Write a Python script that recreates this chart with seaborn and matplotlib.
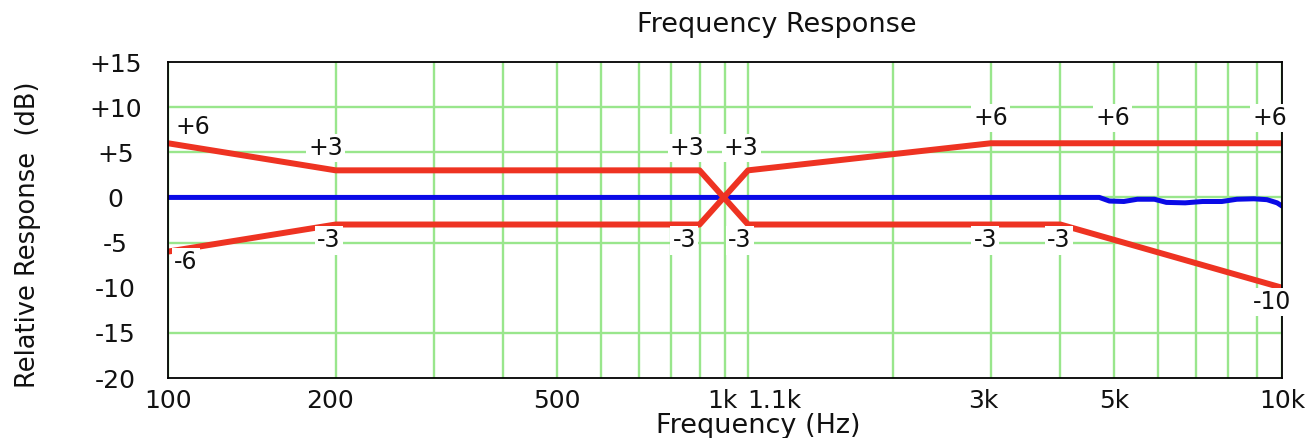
import matplotlib
matplotlib.use("Agg")
import matplotlib.pyplot as plt
import matplotlib.ticker as mticker
import matplotlib.transforms as mtransforms
import seaborn as sns
import pandas as pd

# ---- data ----
upper_freq = [100, 200, 900, 1100, 4000, 10000]
upper_db = [6, 3, 3, -3, -3, -10]
lower_freq = [100, 200, 900, 1100, 3000, 10000]
lower_db = [-6, -3, -3, 3, 6, 6]
resp_freq = [100, 4700, 4900, 5200, 5500, 5900, 6200, 6700, 7200, 7800, 8300, 8900, 9400, 9800, 10000]
resp_db = [0, 0, -0.4, -0.45, -0.2, -0.2, -0.55, -0.6, -0.45, -0.45, -0.2, -0.15, -0.25, -0.6, -0.95]

xtick_vals = [100, 200, 500, 1000, 1100, 3000, 5000, 10000]
xtick_labels = ["100", "200", "500", "1k", "1.1k", "3k", "5k", "10k"]
ytick_vals = [15, 10, 5, 0, -5, -10, -15, -20]
ytick_labels = ["+15", "+10", "+5", "0", "-5", "-10", "-15", "-20"]
xgrid_vals = [100, 200, 300, 400, 500, 600, 700, 800, 900, 1000, 1100,
              2000, 3000, 4000, 5000, 6000, 7000, 8000, 9000, 10000]
ygrid_vals = [10, 5, 0, -5, -15]

# annotations: (text, freq, dB, dx_pt, dy_pt)
ann_text = ["+6", "+3", "-3", "-6", "+3", "+3", "-3", "-3",
            "+6", "+6", "+6", "-3", "-3", "-10"]
ann_freq = [100, 200, 200, 100, 900, 1100, 900, 1100,
            3000, 5000, 10000, 3000, 4000, 10000]
ann_db = [6, 3, -3, -6, 3, 3, -3, -3, 6, 6, 6, -3, -3, -10]
ann_dx = [18, -7, -5, 13, -9, -5, -11, -6, 0, -1, -9, -4, -1, -7]
ann_dy = [11.5, 16, -11.5, -7.5, 16, 16, -11.5, -11.5, 18, 18, 18, -11.5, -11.5, -10.5]

sns.set_style("white")
plt.rcParams["font.family"] = ["DejaVu Sans"]

fig = plt.figure(figsize=(13.11, 4.38), dpi=100)
ax = fig.add_axes([168 / 1311, 1 - 378 / 438, 1114 / 1311, 316 / 438])

green = "#99e68c"
red = "#ee3322"
blue = "#0a0ae6"
txt = "#111111"

df_up = pd.DataFrame({"f": upper_freq, "db": upper_db})
df_lo = pd.DataFrame({"f": lower_freq, "db": lower_db})
df_resp = pd.DataFrame({"f": resp_freq, "db": resp_db})

sns.lineplot(data=df_resp, x="f", y="db", ax=ax, color=blue, lw=3.6,
             estimator=None, sort=False, zorder=2.2)
sns.lineplot(data=df_up, x="f", y="db", ax=ax, color=red, lw=4.3,
             estimator=None, sort=False, zorder=2.3, solid_capstyle="butt")
sns.lineplot(data=df_lo, x="f", y="db", ax=ax, color=red, lw=4.3,
             estimator=None, sort=False, zorder=2.3, solid_capstyle="butt")

ax.set_xscale("log")
ax.set_xlim(100, 10000)
ax.set_ylim(-20, 15)

for g in xgrid_vals:
    ax.axvline(g, color=green, lw=1.7, zorder=1)
for g in ygrid_vals:
    ax.axhline(g, color=green, lw=1.7, zorder=1)

ax.xaxis.set_major_locator(mticker.FixedLocator(xtick_vals))
ax.xaxis.set_major_formatter(mticker.FixedFormatter(xtick_labels))
ax.xaxis.set_minor_locator(mticker.NullLocator())
ax.yaxis.set_major_locator(mticker.FixedLocator(ytick_vals))
ax.yaxis.set_major_formatter(mticker.FixedFormatter(ytick_labels))
ax.tick_params(axis="both", length=0, labelsize=18, labelcolor=txt)
ax.tick_params(axis="x", pad=8)
ax.tick_params(axis="y", pad=38)
for lab in ax.get_yticklabels():
    lab.set_ha("center")

# nudge crowded x tick labels as in the reference
shift_px = {"1k": -3, "1.1k": 26, "200": -6, "3k": -7}
for lab, name in zip(ax.get_xticklabels(), xtick_labels):
    if name in shift_px:
        off = mtransforms.ScaledTranslation(shift_px[name] / 100, 0, fig.dpi_scale_trans)
        lab.set_transform(lab.get_transform() + off)

ax.set_xlabel("")
ax.set_ylabel("")
for s in ax.spines.values():
    s.set_color("black")
    s.set_linewidth(1.3)
    s.set_visible(True)

for t, f, d, dx, dy in zip(ann_text, ann_freq, ann_db, ann_dx, ann_dy):
    ax.annotate(t, xy=(f, d), xytext=(dx, dy), textcoords="offset points",
                ha="center", va="center", fontsize=17, color=txt,
                bbox=dict(fc="white", ec="none", pad=1.5),
                zorder=5, annotation_clip=False)

fig.text(777 / 1311, 1 - 25 / 438, "Frequency Response", ha="center", va="center",
         fontsize=19.5, color=txt)
fig.text(758 / 1311, 1 - 426 / 438, "Frequency (Hz)", ha="center", va="center",
         fontsize=19.5, color=txt)
fig.text(28 / 1311, 1 - 235 / 438, "Relative Response  (dB)", ha="center", va="center",
         rotation=90, fontsize=18.5, color=txt)

fig.savefig("out.png", dpi=100, facecolor="white")
